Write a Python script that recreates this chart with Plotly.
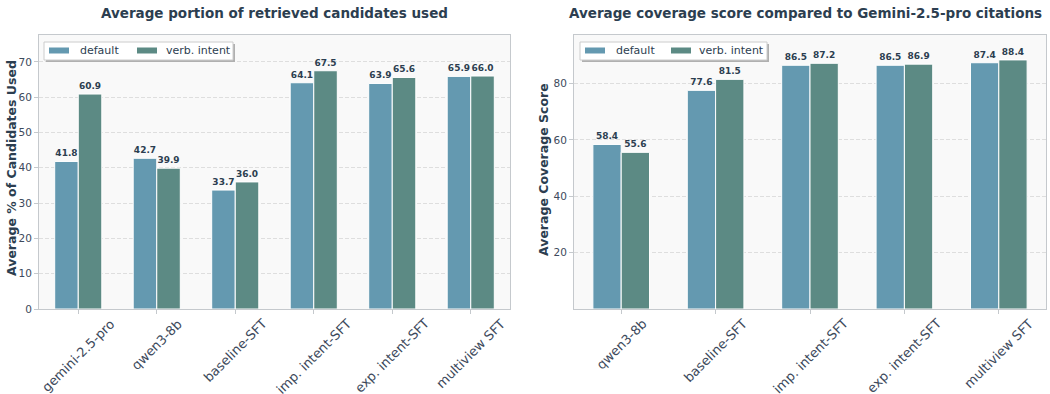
import plotly.graph_objects as go

# ---- data ----
left_categories = ["gemini-2.5-pro", "qwen3-8b", "baseline-SFT", "imp. intent-SFT", "exp. intent-SFT", "multiview SFT"]
left_default = [41.8, 42.7, 33.7, 64.1, 63.9, 65.9]
left_verb = [60.9, 39.9, 36.0, 67.5, 65.6, 66.0]

right_categories = ["qwen3-8b", "baseline-SFT", "imp. intent-SFT", "exp. intent-SFT", "multiview SFT"]
right_default = [58.4, 77.6, 86.5, 86.5, 87.4]
right_verb = [55.6, 81.5, 87.2, 86.9, 88.4]

series_names = ["default", "verb. intent"]
left_title = "Average portion of retrieved candidates used"
right_title = "Average coverage score compared to Gemini-2.5-pro citations"
left_ytitle = "Average % of Candidates Used"
right_ytitle = "Average Coverage Score"
left_yticks = [0, 10, 20, 30, 40, 50, 60, 70]
right_yticks = [20, 40, 60, 80]

# ---- style ----
W, H = 1050, 394
C_DEF = "#6499b0"
C_VERB = "#5c8a84"
DARK = "#2c3e50"
TICK = "#3d4a5c"
FONT = "DejaVu Sans"
GRID = "#dedede"
LINE = "#c5c9cd"

def px(x):
    return x / W

def py(y):
    return 1 - y / H

fig = go.Figure()

def add_bars(cats, d, v, xa, ya):
    for name, vals, col in [(series_names[0], d, C_DEF), (series_names[1], v, C_VERB)]:
        fig.add_trace(go.Bar(
            x=cats, y=vals, name=name, xaxis=xa, yaxis=ya, showlegend=False,
            marker=dict(color=col, line=dict(color="white", width=1)),
            text=[f"{val:.1f}" for val in vals], textposition="outside",
            textfont=dict(family=FONT, size=9, color=DARK, weight="bold"),
            cliponaxis=False, offsetgroup=name,
        ))

add_bars(left_categories, left_default, left_verb, "x", "y")
add_bars(right_categories, right_default, right_verb, "x2", "y2")

axis_common = dict(
    showline=True, linecolor=LINE, linewidth=1, mirror=True,
    ticks="outside", ticklen=4, tickcolor=LINE, automargin=False,
)
ytick_font = dict(family=FONT, size=10.5, color=TICK)
xtick_font = dict(family=FONT, size=13, color=TICK)

fig.update_layout(
    width=W, height=H,
    margin=dict(l=0, r=0, t=0, b=0),
    paper_bgcolor="white",
    plot_bgcolor="#f9f9f9",
    barmode="group", bargap=0.4, bargroupgap=0,
    font=dict(family=FONT, color=DARK),
    showlegend=False,
    xaxis=dict(domain=[px(39), px(510)], anchor="y", range=[-0.5, 5.5],
               showticklabels=False, showgrid=False, **axis_common),
    yaxis=dict(domain=[py(309), py(35)], anchor="x", range=[0, 67.5 * 1.15],
               tickvals=left_yticks, showgrid=True, gridcolor=GRID, griddash="4px,2px", gridwidth=0.8,
               zeroline=False, tickfont=ytick_font, **axis_common),
    xaxis2=dict(domain=[px(574), px(1046)], anchor="y2", range=[-0.5, 4.5],
                showticklabels=False, showgrid=False, **axis_common),
    yaxis2=dict(domain=[py(309), py(35)], anchor="x2", range=[0, 88.4 * 1.1],
                tickvals=right_yticks, showgrid=True, gridcolor=GRID, griddash="4px,2px", gridwidth=0.8,
                zeroline=False, tickfont=ytick_font, **axis_common),
)

# ---- rotated category labels, centred under each tick ----
for cats, xref in [(left_categories, "x"), (right_categories, "x2")]:
    for c in cats:
        fig.add_annotation(text=c, xref=xref, yref="paper", x=c, y=py(313),
                           xanchor="center", yanchor="top", textangle=-45, showarrow=False,
                           font=xtick_font)

# ---- custom legends (box, shadow, swatches, labels) ----
legend_specs = [
    dict(box=(44, 233), sw=(49, 137), tx=(78, 164)),
    dict(box=(580, 767), sw=(585, 671), tx=(614, 697)),
]
LEG_Y0, LEG_Y1 = 42, 60
for spec in legend_specs:
    bx0, bx1 = spec["box"]
    fig.add_shape(type="rect", xref="paper", yref="paper", layer="above",
                  x0=px(bx0 + 2), x1=px(bx1 + 2), y0=py(LEG_Y1 + 2), y1=py(LEG_Y0 + 2),
                  fillcolor="#b0b0b0", line=dict(width=0))
    fig.add_shape(type="rect", xref="paper", yref="paper", layer="above",
                  x0=px(bx0), x1=px(bx1), y0=py(LEG_Y1), y1=py(LEG_Y0),
                  fillcolor="white", line=dict(color="#cccccc", width=1))
    for name, col, sx, tx in zip(series_names, [C_DEF, C_VERB], spec["sw"], spec["tx"]):
        fig.add_shape(type="rect", xref="paper", yref="paper", layer="above",
                      x0=px(sx), x1=px(sx + 20), y0=py(53.5), y1=py(47.5),
                      fillcolor=col, line=dict(width=0))
        fig.add_annotation(text=name, xref="paper", yref="paper", x=px(tx), y=py(50.5),
                           xanchor="left", yanchor="middle", showarrow=False,
                           font=dict(family=FONT, size=11, color=DARK))

# ---- titles ----
fig.add_annotation(text=f"<b>{left_title}</b>", xref="paper", yref="paper",
                   x=px(274.5), y=py(12.5), xanchor="center", yanchor="middle", showarrow=False,
                   font=dict(family=FONT, size=13.5, color=DARK))
fig.add_annotation(text=f"<b>{right_title}</b>", xref="paper", yref="paper",
                   x=px(805), y=py(12.5), xanchor="center", yanchor="middle", showarrow=False,
                   font=dict(family=FONT, size=13.5, color=DARK))
fig.add_annotation(text=f"<b>{left_ytitle}</b>", xref="paper", yref="paper", textangle=-90,
                   x=px(12), y=py(168), xanchor="center", yanchor="middle", showarrow=False,
                   font=dict(family=FONT, size=12.5, color=DARK))
fig.add_annotation(text=f"<b>{right_ytitle}</b>", xref="paper", yref="paper", textangle=-90,
                   x=px(543), y=py(170), xanchor="center", yanchor="middle", showarrow=False,
                   font=dict(family=FONT, size=12.5, color=DARK))

fig.write_html("out.html")
